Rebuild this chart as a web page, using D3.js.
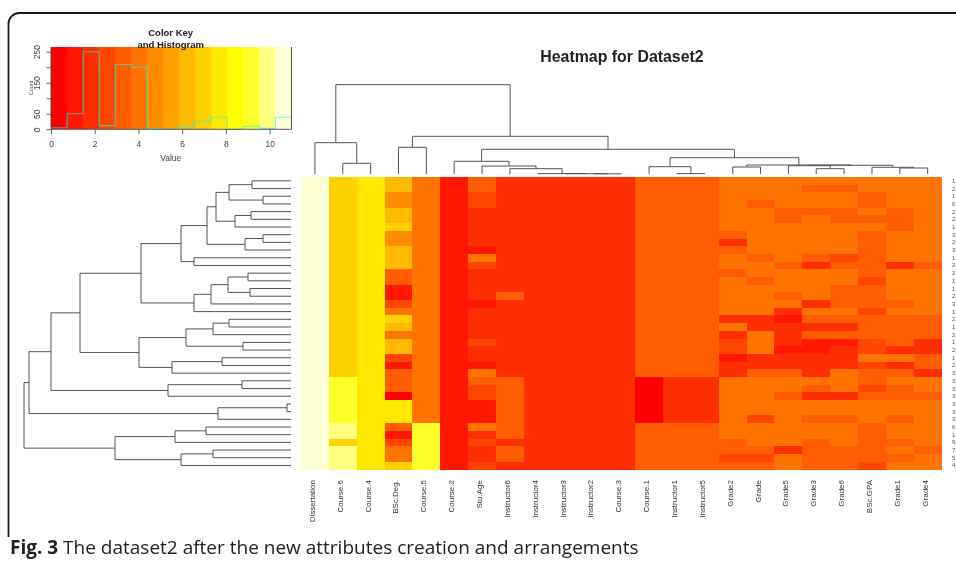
<!DOCTYPE html>
<html><head><meta charset="utf-8">
<script src="https://d3js.org/d3.v7.min.js"></script>
<style>html,body{margin:0;padding:0;background:#fff}svg{display:block}text{font-family:"Liberation Sans",Arial,sans-serif}</style>
</head><body><svg id="c" width="956" height="564"></svg>
<script>
// ---- data ----
const heatColors=["#ff0000","#ff1700","#ff2e00","#ff4600","#ff5d00","#ff7400","#ff8b00","#ffa200","#ffb900","#ffd100","#ffe800","#ffff00","#ffff2a","#ffff80","#ffffd5"];
const columnNames=["Dissertation","Course.6","Course.4","BSc.Deg.","Course.5","Course.2","Stu.Age","Instructor6","Instructor4","Instructor3","Instructor2","Course.3","Course.1","Instructor1","Instructor5","Grade2","Grade","Grade5","Grade3","Grade6","BSc.GPA","Grade1","Grade4"];
const rowLabels=[1,2,1,6,2,2,1,3,2,3,1,2,2,1,1,2,3,1,2,1,2,1,2,1,2,3,3,3,3,3,3,3,6,1,9,7,5,4];
// colour-bin level (0..14) of each cell, one list per column, top row first
const dissertation=[14,14,14,14,14,14,14,14,14,14,14,14,14,14,14,14,14,14,14,14,14,14,14,14,14,14,14,14,14,14,14,14,14,14,14,14,14,14];
const course6=[9,9,9,9,9,9,9,9,9,9,9,9,9,9,9,9,9,9,9,9,9,9,9,9,9,9,12,12,12,12,12,12,13,13,9,13,13,13];
const course4=[10,10,10,10,10,10,10,10,10,10,10,10,10,10,10,10,10,10,10,10,10,10,10,10,10,10,10,10,10,10,10,10,10,10,10,10,10,10];
const bscDeg=[8,8,6,6,8,8,9,6,6,8,8,8,4,4,1,1,3,5,9,8,5,8,8,3,1,4,4,4,0,10,10,10,4,1,3,5,5,9];
const course5=[5,5,5,5,5,5,5,5,5,5,5,5,5,5,5,5,5,5,5,5,5,5,5,5,5,5,5,5,5,5,5,5,12,12,12,12,12,12];
const course2=[1,1,1,1,1,1,1,1,1,1,1,1,1,1,1,1,1,1,1,1,1,1,1,1,1,1,1,1,1,1,1,1,1,1,1,1,1,1];
const stuAge=[4,4,3,3,2,2,2,2,2,1,5,3,2,2,2,2,1,2,2,2,2,3,2,2,1,5,4,3,3,1,1,1,5,2,3,2,2,3];
const instructor6=[2,2,2,2,2,2,2,2,2,2,2,2,2,2,2,4,2,2,2,2,2,2,2,2,2,2,4,4,4,4,4,4,4,4,2,4,4,2];
const instructor4=[2,2,2,2,2,2,2,2,2,2,2,2,2,2,2,2,2,2,2,2,2,2,2,2,2,2,2,2,2,2,2,2,2,2,2,2,2,2];
const instructor3=instructor4, instructor2=instructor4, course3=instructor4;
const course1=[4,4,4,4,4,4,4,4,4,4,4,4,4,4,4,4,4,4,4,4,4,4,4,4,4,4,0,0,0,0,0,0,4,4,4,4,4,4];
const instructor1=[4,4,4,4,4,4,4,4,4,4,4,4,4,4,4,4,4,4,4,4,4,4,4,4,4,4,2,2,2,2,2,2,4,4,4,4,4,4];
const instructor5=instructor1;
const grade2=[5,5,5,5,5,5,5,4,2,4,5,5,4,5,5,5,5,5,2,5,2,3,3,1,2,2,5,5,5,5,5,5,5,5,4,4,3,4];
const grade=[5,5,5,4,5,5,5,5,5,5,4,5,5,4,5,5,5,5,2,2,5,5,5,2,2,4,5,5,5,5,5,3,5,5,5,4,3,4];
const grade5=[5,5,5,5,4,4,5,5,5,5,5,4,5,5,5,4,5,2,1,2,2,2,1,2,2,4,5,5,4,5,5,5,5,5,5,2,5,5];
const grade3=[5,4,5,5,4,5,5,5,5,5,4,2,5,5,5,5,2,5,4,2,4,1,1,2,2,2,5,4,2,5,5,4,5,5,4,4,4,4];
const grade6=[5,4,5,5,4,4,5,5,5,5,3,4,5,5,4,4,4,5,4,2,4,1,2,2,2,5,5,5,2,5,5,4,5,5,5,4,4,4];
const bscGpa=[5,5,4,4,5,4,5,4,4,4,4,4,4,3,4,4,4,3,4,4,4,3,3,5,3,4,4,3,4,5,5,5,4,4,4,4,4,3];
const grade1=[5,5,5,5,4,4,4,5,5,5,5,2,5,5,5,5,4,5,4,4,4,4,2,5,2,4,5,4,4,5,5,4,5,5,4,5,4,5];
const grade4=[5,5,5,5,5,5,5,5,5,5,5,4,5,5,5,5,5,5,4,4,4,2,2,4,4,2,5,5,4,5,5,5,5,5,5,4,5,5];
const levels=[dissertation,course6,course4,bscDeg,course5,course2,stuAge,instructor6,instructor4,instructor3,instructor2,course3,course1,instructor1,instructor5,grade2,grade,grade5,grade3,grade6,bscGpa,grade1,grade4];
const histCounts=[5,50,250,12,209,200,3,0,10,26,39,0,10,3,39];
const keyTicksX=[0,2,4,6,8,10];
const keyTicksY=[0,50,100,150,200,250];
const keyLabelsY=[0,50,150,250];

// dendrogram merges: n(height, left, right); L is one leaf
const L={h:0};
const n=(h,a,b)=>({h,children:[a,b]});
const rowT1=n(15.0,n(11.0,n(8.4,n(7.5,n(6.2,n(3.9,L,L),n(2.8,L,L)),n(5.6,n(4.0,L,L),L)),n(4.6,n(2.8,L,L),L)),n(9.7,L,L)),n(9.7,n(8.0,n(6.3,n(4.3,L,L),n(4.1,L,L)),L),L));
const rowT2=n(15.2,n(10.5,n(7.8,n(6.2,L,L),L),n(4.8,L,L)),n(11.9,n(6.9,L,L),L));
const rowT3=n(12.3,n(4.9,L,L),L);
const rowT4=n(7.3,n(0.4,L,L),L);
const rowT5=n(17.6,n(11.6,n(8.5,L,L),L),n(11.0,n(7.8,L,L),L));
const rowTree=n(26.7,n(26.2,n(24.0,n(21.1,rowT1,rowT2),rowT3),rowT4),rowT5);
const colA=n(1.27,L,n(0.8,L,n(0.53,L,n(0.04,L,n(0.03,L,n(0.02,L,L))))));
const colB=n(1.63,n(0.73,L,n(0.04,L,L)),n(0.9,n(0.7,L,L),n(0.87,n(0.83,L,n(0.53,L,L)),n(0.67,L,n(0.6,L,L)))));
const colTree=n(8.93,n(3.13,L,n(1.07,L,L)),n(3.77,n(2.67,L,L),n(2.47,colA,colB)));

// ---- drawing ----
const svg=d3.select("#c");
const chart=svg.append("g").style("filter","blur(0.35px)");
const x=d3.scaleBand().domain(d3.range(columnNames.length)).range([301,941.6]);
const y=d3.scaleBand().domain(d3.range(rowLabels.length)).range([177,469.3]);
const color=d3.scaleQuantize().domain([0,heatColors.length]).range(heatColors);

// frame
svg.append("path").attr("d","M8.5,537V24a11,11 0 0 1 11,-11H956").attr("fill","none").attr("stroke","#1a1a1a").attr("stroke-width",1.8);

// cells
chart.append("g").attr("shape-rendering","crispEdges").selectAll("g").data(levels).join("g")
 .each(function(col,i){
  d3.select(this).selectAll("rect").data(col).join("rect")
   .attr("x",x(i)).attr("width",x.bandwidth()+0.5)
   .attr("y",(d,r)=>y(r)).attr("height",y.bandwidth()+0.5)
   .attr("fill",d=>color(d+0.5));
 });

// dendrograms
function drawTree(tree,posScale,hScale,vertical){
 const root=d3.hierarchy(tree);
 root.leaves().forEach((l,i)=>{l.pos=posScale(i)+posScale.bandwidth()/2;});
 root.eachAfter(d=>{if(d.children)d.pos=d3.mean(d.children,c=>c.pos);});
 const pt=(p,h)=>vertical?[p,hScale(h)]:[hScale(h),p];
 const line=d3.line();
 chart.append("g").attr("fill","none").attr("stroke","#555").attr("stroke-width",1)
  .selectAll("path").data(root.descendants().filter(d=>d.children)).join("path")
  .attr("d",d=>{const [a,b]=d.children;
   return line([pt(a.pos,a.data.h),pt(a.pos,d.data.h),pt(b.pos,d.data.h),pt(b.pos,b.data.h)]);});
}
drawTree(rowTree,y,d3.scaleLinear().domain([0,26.7]).range([291,24]),false);
drawTree(colTree,x,d3.scaleLinear().domain([0,8.93]).range([174,84.7]),true);

// labels
chart.append("g").selectAll("text").data(columnNames).join("text")
 .attr("transform",(d,i)=>`translate(${x(i)+x.bandwidth()/2},480) rotate(-90)`)
 .attr("text-anchor","end").attr("font-size",8).attr("fill","#333").text(d=>d);
chart.append("g").selectAll("text").data(rowLabels).join("text")
 .attr("x",952).attr("y",(d,i)=>y(i)+y.bandwidth()/2+2)
 .attr("font-size",6).attr("fill","#555").text(d=>d);
chart.append("text").attr("x",622).attr("y",62).attr("text-anchor","middle")
 .attr("font-size",15.9).attr("font-weight","bold").attr("fill","#222").text("Heatmap for Dataset2");

// colour key
const kx=d3.scaleLinear().domain([0,11]).range([51,291.5]);
const ky=d3.scaleLinear().domain([0,250]).range([129.3,51.7]);
const binW=11/heatColors.length;
const key=chart.append("g");
key.append("g").attr("shape-rendering","crispEdges").selectAll("rect").data(heatColors).join("rect")
 .attr("x",(d,i)=>kx(i*binW)).attr("width",kx(binW)-kx(0)+0.5)
 .attr("y",47).attr("height",ky(0)-47).attr("fill",d=>d);
const histLine=d3.line().x(d=>kx(d[0])).y(d=>ky(d[1])).curve(d3.curveStepAfter);
const histPts=histCounts.map((c,i)=>[i*binW,c]).concat([[11,histCounts[histCounts.length-1]]]);
key.append("path").attr("d",histLine(histPts)).attr("fill","none").attr("stroke","#00ffff").attr("stroke-opacity",0.6).attr("stroke-width",1.1);
key.append("path").attr("d",d3.line()([[kx(0),47],[kx(0),ky(0)],[kx(11),ky(0)],[kx(11),47]])).attr("fill","none").attr("stroke","#444").attr("stroke-width",0.9);
const ax=key.append("g").attr("transform",`translate(0,${ky(0)})`).call(d3.axisBottom(kx).tickValues(keyTicksX).tickSize(5).tickPadding(7));
const ay=key.append("g").attr("transform",`translate(${kx(0)},0)`).call(d3.axisLeft(ky).tickValues(keyTicksY).tickSize(4.5).tickFormat(d=>keyLabelsY.includes(d)?d:""));
[ax,ay].forEach(a=>{a.select(".domain").remove();a.selectAll("line").attr("stroke","#444").attr("stroke-width",0.8);a.selectAll("text").attr("font-family",'"Liberation Sans"').attr("font-size",8.5).attr("fill","#444");});
ay.selectAll("text").attr("x",0).attr("y",0).attr("dy",0).attr("text-anchor","middle").attr("transform","translate(-11,0) rotate(-90)");
key.append("text").attr("x",170.7).attr("y",160.7).attr("text-anchor","middle").attr("font-size",8.5).attr("fill","#444").text("Value");
key.append("text").attr("transform","translate(33,88) rotate(-90)").attr("text-anchor","middle").attr("font-size",5.5).attr("fill","#555").text("Count");
key.append("text").attr("x",170.7).attr("y",36.3).attr("text-anchor","middle").attr("font-size",9.5).attr("font-weight","bold").attr("fill","#222").text("Color Key");
key.append("text").attr("x",170.7).attr("y",47.5).attr("text-anchor","middle").attr("font-size",9.5).attr("font-weight","bold").attr("fill","#222").text("and Histogram");

// caption
const cap=svg.append("text").attr("x",10).attr("y",554).attr("font-size",19).attr("fill","#222").style("font-family",'"Open Sans"');
cap.append("tspan").attr("font-weight","bold").text("Fig. 3");
cap.append("tspan").text(" The dataset2 after the new attributes creation and arrangements");
</script></body></html>
